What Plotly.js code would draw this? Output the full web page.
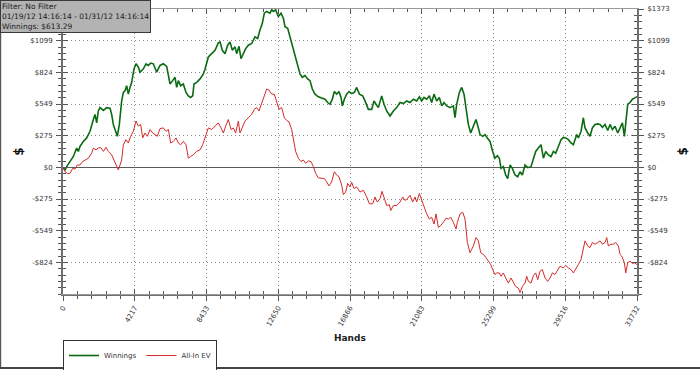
<!DOCTYPE html>
<html>
<head>
<meta charset="utf-8">
<script src="https://cdn.plot.ly/plotly-3.0.1.min.js"></script>
<style>html,body{margin:0;padding:0;background:#fff;}#chart{width:700px;height:370px;}</style>
</head>
<body>
<div id="chart"></div>
<script>
const handsW = [0,118,216,412,608,804,901,999,1195,1391,1587,1783,1881,1979,2077,2175,2371,2567,2763,2860,2958,3056,3193,3311,3448,3546,3644,3742,3840,3938,4036,4173,4291,4428,4526,4722,4878,5015,5153,5309,5407,5505,5701,5897,6093,6191,6289,6445,6583,6681,6778,6916,7072,7229,7366,7503,7621,7699,7856,8052,8248,8345,8444,8541,8737,8933,9129,9227,9364,9520,9677,9814,9951,10108,10206,10343,10461,10598,10735,10892,11088,11283,11440,11577,11714,11832,11969,12165,12263,12361,12498,12655,12812,12949,13047,13204,13341,13478,13634,13791,13928,14065,14222,14378,14516,14653,14809,15005,15201,15397,15554,15691,15828,15946,16083,16220,16338,16416,16534,16671,16808,16965,17122,17259,17416,17611,17749,17945,18140,18277,18395,18532,18728,18865,19022,19218,19414,19610,19806,20001,20197,20393,20589,20785,20942,21079,21216,21373,21529,21666,21804,21960,22117,22254,22391,22548,22744,22940,23038,23136,23292,23430,23567,23684,23821,23958,24115,24272,24409,24507,24663,24800,24938,25094,25251,25388,25525,25643,25742,25879,26016,26133,26271,26408,26564,26721,26858,26995,27152,27309,27504,27642,27779,27936,28093,28230,28367,28524,28681,28817,28954,29111,29268,29405,29542,29699,29856,29993,30091,30189,30287,30443,30580,30678,30835,30972,31109,31266,31423,31560,31697,31854,32011,32148,32285,32442,32599,32736,32874,32991,33069,33187,33324,33461,33579,33732];
const winnings = [0,-23,6,50,94,167,138,181,225,255,313,415,459,386,489,518,494,518,512,459,372,328,269,372,576,650,664,708,635,693,737,854,898,869,825,854,898,884,904,898,854,825,884,898,875,781,723,752,781,693,752,708,723,650,620,606,620,723,737,767,810,850,898,957,986,1015,1080,1088,1015,986,1059,1088,1015,1045,986,1050,942,986,1030,1059,1074,1132,1118,1191,1249,1337,1352,1337,1368,1352,1366,1308,1337,1293,1220,1206,1132,1045,971,898,810,781,796,767,752,679,635,612,600,591,562,547,591,658,635,658,606,533,591,635,658,640,650,693,635,620,576,503,503,576,547,518,620,547,489,445,489,518,562,553,576,562,591,576,612,576,606,591,620,562,635,576,606,533,562,533,518,533,430,547,650,693,635,489,372,298,357,415,342,284,269,284,255,225,138,79,100,79,-9,6,-67,-97,20,-9,-67,-82,-38,-67,20,-3,6,79,138,167,196,79,138,108,94,138,123,181,240,260,255,240,211,196,240,284,255,313,430,342,298,269,342,372,377,372,348,372,319,372,328,357,298,342,386,269,372,547,562,591,600,613];

const handsEV = [0,118,255,412,569,706,843,999,1156,1293,1489,1685,1783,1940,2077,2214,2371,2528,2665,2860,2997,3115,3252,3350,3448,3546,3703,3840,3977,4134,4291,4428,4565,4682,4820,4957,5113,5270,5407,5544,5701,5897,6054,6191,6328,6485,6642,6778,6916,7072,7229,7366,7503,7660,7856,8052,8209,8346,8444,8541,8737,8933,9129,9286,9423,9560,9716,9873,10010,10147,10304,10402,10539,10696,10892,11088,11245,11381,11518,11675,11832,11969,12106,12263,12420,12557,12694,12851,13008,13145,13282,13439,13536,13673,13830,13987,14124,14261,14418,14575,14712,14849,15005,15201,15358,15495,15632,15789,15946,16083,16220,16377,16475,16612,16730,16867,16965,17102,17259,17455,17651,17847,18003,18199,18336,18473,18630,18748,18865,19022,19179,19257,19414,19610,19806,19962,20099,20237,20393,20550,20687,20785,20942,21079,21216,21373,21529,21666,21804,21921,22058,22195,22352,22509,22646,22783,22940,23097,23175,23332,23489,23626,23763,23919,24017,24115,24272,24409,24546,24703,24860,24997,25134,25251,25388,25487,25643,25742,25879,26016,26173,26329,26466,26603,26760,26858,26995,27152,27250,27348,27504,27642,27779,27896,28034,28171,28328,28484,28622,28759,28915,29072,29209,29405,29542,29699,29856,29993,30130,30287,30443,30580,30678,30835,30972,31109,31266,31423,31560,31697,31854,31951,32050,32207,32344,32481,32638,32736,32834,32991,33069,33187,33324,33461,33579,33732];
const allInEV = [0,-38,-53,-53,-9,-15,20,20,50,64,79,123,167,152,167,173,138,173,138,108,64,35,-23,20,64,196,240,211,269,313,401,357,372,255,298,269,328,298,284,269,336,342,313,328,211,225,255,211,196,225,196,79,94,108,138,152,196,262,298,342,328,357,386,342,298,357,415,328,342,298,401,298,342,401,430,459,503,518,489,562,620,679,670,635,635,562,503,518,430,407,395,328,240,138,79,50,64,35,56,50,6,-53,-91,-97,-97,-126,-161,-126,-38,-67,-82,-155,-237,-214,-140,-170,-130,-184,-170,-214,-199,-257,-316,-316,-257,-301,-272,-208,-257,-331,-325,-375,-331,-331,-301,-257,-287,-272,-243,-301,-257,-301,-228,-287,-345,-404,-448,-433,-492,-404,-521,-506,-477,-442,-448,-433,-477,-535,-477,-404,-389,-448,-652,-740,-711,-682,-609,-638,-740,-755,-784,-813,-843,-887,-930,-916,-916,-945,-916,-960,-1004,-960,-1004,-1033,-1048,-1086,-1033,-1004,-945,-989,-1004,-939,-916,-974,-901,-887,-960,-989,-960,-916,-930,-887,-857,-872,-851,-872,-887,-916,-887,-843,-799,-711,-638,-682,-696,-652,-667,-652,-638,-667,-652,-609,-682,-667,-667,-652,-682,-755,-769,-828,-916,-828,-813,-834,-828,-843];

const xTickVals = [0,4216.5,8433,12649.5,16866,21082.5,25299,29515.5,33732];
const xTickText = ['0','4217','8433','12650','16866','21083','25299','29516','33732'];
const yTickVals = [-823.95,-549.3,-274.65,0,274.65,549.3,823.95,1098.6,1373.25];
const yTickTextRight = ['-$824','-$549','-$275','$0','$275','$549','$824','$1099','$1373'];
const yTickTextLeft = ['-$824','-$549','-$275','$0','$275','$549','$824','$1099',''];
const xRange = [0,33732];
const yRange = [-1098.6,1373.25];

const tickFont = {family:'DejaVu Sans, Verdana, sans-serif', size:7, color:'#333'};
const axisColor = '#6e6e6e';
const gridDash = '1px,3px';

const traces = [
  {x:handsW, y:winnings, name:'Winnings', type:'scatter', mode:'lines',
   line:{color:'#0b6b12', width:1.6}, xaxis:'x', yaxis:'y'},
  {x:handsEV, y:allInEV, name:'All-In EV', type:'scatter', mode:'lines',
   line:{color:'#d42a2a', width:1}, xaxis:'x', yaxis:'y'},
  {x:[null], y:[null], xaxis:'x', yaxis:'y2', showlegend:false, hoverinfo:'skip', mode:'lines'},
  {x:[null], y:[null], xaxis:'x2', yaxis:'y3', showlegend:false, hoverinfo:'skip', mode:'lines'}
];

const layout = {
  width:700, height:370,
  margin:{l:63, r:63, t:9, b:76, autoexpand:false},
  paper_bgcolor:'#fff', plot_bgcolor:'#fff',
  showlegend:true,
  hovermode:false,
  legend:{orientation:'h', x:0, xanchor:'left', y:-0.2158, yanchor:'middle',
    bordercolor:'#333', borderwidth:1, bgcolor:'#fff',
    font:{family:'DejaVu Sans, Verdana, sans-serif', size:7, color:'#333'},
    itemwidth:30, tracegroupgap:0},
  xaxis:{range:xRange, tickmode:'array', tickvals:xTickVals, ticktext:xTickText,
    tickangle:-60, ticks:'outside', ticklen:5, tickwidth:1, tickcolor:'#555',
    showline:true, linecolor:axisColor, linewidth:2,
    showgrid:true, gridcolor:'#8a8a8a', griddash:gridDash, gridwidth:1, zeroline:false,
    tickfont:tickFont, automargin:false,
    minor:{dtick:843.3, tick0:0, ticks:'outside', ticklen:3, tickcolor:'#555', showgrid:false}},
  xaxis2:{range:xRange, overlaying:'x', anchor:'y', side:'bottom', tickmode:'array', tickvals:xTickVals,
    ticks:'inside', ticklen:5, tickcolor:'#555', showticklabels:false, mirror:'allticks',
    showline:true, linecolor:'#9a9a9a', linewidth:1, showgrid:false, zeroline:false,
    minor:{dtick:843.3, tick0:0, ticks:'inside', ticklen:3, tickcolor:'#555', showgrid:false}},
  yaxis:{range:yRange, tickmode:'array', tickvals:yTickVals, ticktext:yTickTextLeft,
    ticks:'outside', ticklen:5, tickwidth:1, tickcolor:'#555',
    showline:true, linecolor:axisColor, linewidth:2,
    showgrid:true, gridcolor:'#8a8a8a', griddash:gridDash, gridwidth:1,
    zeroline:true, zerolinecolor:'#5a5a5a', zerolinewidth:1.5,
    tickfont:tickFont, automargin:false, ticklabelstandoff:2,
    minor:{dtick:54.93, tick0:0, ticks:'outside', ticklen:3, tickcolor:'#555', showgrid:false}},
  yaxis2:{range:yRange, overlaying:'y', side:'right', anchor:'x', tickmode:'array', tickvals:yTickVals, ticktext:yTickTextRight,
    ticks:'outside', ticklen:5, tickwidth:1, tickcolor:'#555',
    showline:true, linecolor:axisColor, linewidth:2, showgrid:false, zeroline:false,
    tickfont:tickFont, automargin:false, ticklabelstandoff:2,
    minor:{dtick:54.93, tick0:0, ticks:'outside', ticklen:3, tickcolor:'#555', showgrid:false}},
  yaxis3:{range:yRange, overlaying:'y', side:'left', anchor:'x', tickmode:'array', tickvals:yTickVals,
    ticks:'inside', ticklen:5, tickcolor:'#555', showticklabels:false, mirror:'allticks',
    showline:false, showgrid:false, zeroline:false,
    minor:{dtick:54.93, tick0:0, ticks:'inside', ticklen:3, tickcolor:'#555', showgrid:false}},
  annotations:[
    {text:'Hands', xref:'paper', yref:'paper', x:0.5, y:-0.154, xanchor:'center', yanchor:'middle', showarrow:false,
     font:{family:'DejaVu Sans, Verdana, sans-serif', size:9, color:'#222', weight:'bold'}},
    {text:'<b>$</b>', xref:'paper', yref:'paper', x:-0.078, y:0.5, xanchor:'center', yanchor:'middle', showarrow:false, textangle:-90,
     font:{family:'DejaVu Sans, Verdana, sans-serif', size:12, color:'#111'}},
    {text:'<b>$</b>', xref:'paper', yref:'paper', x:1.08, y:0.5, xanchor:'center', yanchor:'middle', showarrow:false, textangle:-90,
     font:{family:'DejaVu Sans, Verdana, sans-serif', size:12, color:'#111'}},
    {text:'Filter: No Filter<br>01/19/12 14:16:14 - 01/31/12 14:16:14<br>Winnings: $613.29',
     xref:'paper', yref:'paper', x:-0.1098, y:1.0316, xanchor:'left', yanchor:'top', showarrow:false, align:'left',
     bgcolor:'#b3b3b3', bordercolor:'#3a3a3a', borderwidth:1, borderpad:1,
     font:{family:'DejaVu Sans, Verdana, sans-serif', size:7.5, color:'#1a1a1a'}}
  ],
  shapes:[
    {type:'line', xref:'paper', yref:'paper', x0:-0.1090, x1:-0.1090, y0:-0.2596, y1:1.0316, line:{color:'#555', width:1.5}},
    {type:'line', xref:'paper', yref:'paper', x0:-0.1098, x1:1.1098, y0:-0.2596, y1:-0.2596, line:{color:'#444', width:2}}
  ]
};

Plotly.newPlot('chart', traces, layout, {staticPlot:true, displayModeBar:false});
</script>
</body>
</html>
